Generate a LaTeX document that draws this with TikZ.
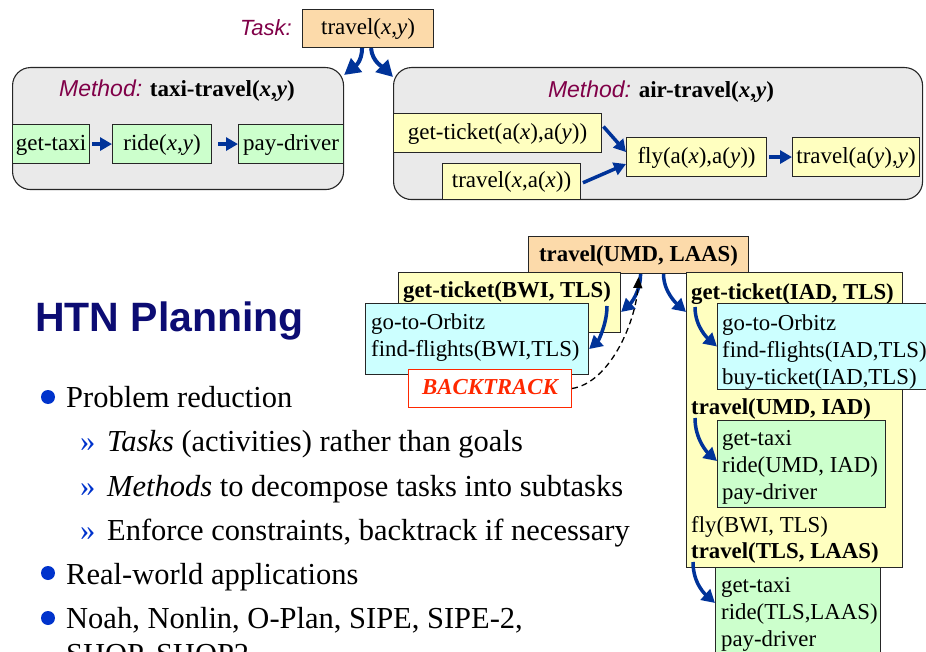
\documentclass[tikz,border=0pt]{standalone}
\usepackage{fontspec}
\setmainfont{Liberation Serif}
\newfontfamily\arialfont{Liberation Sans}
\usetikzlibrary{arrows.meta}

\definecolor{peach}{RGB}{252,218,170}
\definecolor{lemon}{RGB}{255,255,192}
\definecolor{mint}{RGB}{204,255,204}
\definecolor{aqua}{RGB}{204,255,255}
\definecolor{panel}{RGB}{234,234,234}
\definecolor{arrowblue}{RGB}{0,51,153}
\definecolor{plum}{RGB}{128,0,72}
\definecolor{navy}{RGB}{12,12,115}
\definecolor{dotblue}{RGB}{0,51,204}
\definecolor{alarm}{RGB}{255,40,0}

\newcommand\fsnode{\fontsize{23pt}{27pt}\selectfont}
\newcommand\fslow{\fontsize{22.8pt}{27pt}\selectfont}
\newcommand\fsbody{\fontsize{30.5pt}{36pt}\selectfont}
\newcommand\fshead{\fontsize{41pt}{48pt}\selectfont}

\begin{document}
\begin{tikzpicture}[x=1pt,y=-1pt,
  cell/.style={draw=black!85,line width=1.1pt,inner sep=0pt,anchor=north west,
    font=\fsnode,text height=16pt,text depth=3.5pt},
  panelbox/.style={draw=black!85,line width=1.1pt,fill=panel,rounded corners=18pt,
    inner sep=0pt,anchor=north west},
  line/.style={anchor=base west,inner sep=0pt,font=\fslow},
  body/.style={anchor=base west,inner sep=0pt,font=\fsbody},
  flow/.style={draw=arrowblue,line width=3.5pt,-{Triangle[length=12pt,width=13pt]}},
  hop/.style={draw=arrowblue,line width=3.5pt,-{Triangle[length=13pt,width=14pt]}},
  bigflow/.style={draw=arrowblue,line width=4pt,-{Triangle[length=16pt,width=17pt]}},
  dot/.style={circle,fill=dotblue,inner sep=0pt,minimum size=14pt}
]
\useasboundingbox (0,0) rectangle (926,652);
\clip (0,0) rectangle (926,652);

% ---------------- task and its two methods ----------------
\node[cell,fill=peach,minimum width=131pt,minimum height=38pt] (task) at (302,9)
  {travel(\textit{x},\textit{y})};
\node[anchor=east,inner sep=0pt,font=\arialfont\itshape\fontsize{22pt}{26pt}\selectfont,text=plum]
  (tasklbl) at (292,28) {Task:};

\node[panelbox,minimum width=331pt,minimum height=122pt] (taxi) at (12,67) {};
\node[font=\fsnode,inner sep=0pt] (taxititle) at (177,91)
  {{\arialfont\itshape\color{plum}Method:} \textbf{taxi-travel(\textit{x},\textit{y})}};
\node[cell,fill=mint,minimum width=77pt,minimum height=39pt] (gt) at (12,124) {get-taxi};
\node[cell,fill=mint,minimum width=99pt,minimum height=39pt] (ride) at (112,124)
  {ride(\textit{x},\textit{y})};
\node[cell,fill=mint,minimum width=105pt,minimum height=39pt] (pay) at (238,124) {pay-driver};
\draw[flow,shorten <=2pt] (gt.east) -- (ride.west);
\draw[flow,shorten <=6pt] (ride.east) -- (pay.west);

\node[panelbox,minimum width=529pt,minimum height=132pt] (air) at (393,67) {};
\node[font=\fsnode,inner sep=0pt] (airtitle) at (661,92)
  {{\arialfont\itshape\color{plum}Method:} \textbf{air-travel(\textit{x},\textit{y})}};
\node[cell,fill=lemon,minimum width=208pt,minimum height=39pt] (gtk) at (393,113)
  {get-ticket(a(\textit{x}),a(\textit{y}))};
\node[cell,fill=lemon,minimum width=138pt,minimum height=36pt] (trx) at (442,163)
  {travel(\textit{x},a(\textit{x}))};
\node[cell,fill=lemon,minimum width=140pt,minimum height=39pt] (fly) at (626,137)
  {fly(a(\textit{x}),a(\textit{y}))};
\node[cell,fill=lemon,minimum width=127pt,minimum height=39pt] (tra) at (792,137)
  {travel(a(\textit{y}),\textit{y})};
\draw[flow,shorten <=2pt] ([yshift=8pt]gtk.east) -- ([yshift=5pt]fly.west);
\draw[flow,shorten <=2pt] ([yshift=-2pt]trx.east) -- ([yshift=-7pt]fly.west);
\draw[flow,shorten <=2pt] (fly.east) -- (tra.west);

\draw[bigflow] ([xshift=-6pt]task.south) .. controls +(0,14) and +(10,-8) .. ([yshift=-8pt]taxi.north east);
\draw[bigflow] ([xshift=3pt]task.south) .. controls +(1,14) and +(-9,-9) .. ([yshift=-10pt]air.north west);

% ---------------- decomposition example ----------------
\node[cell,fill=peach,minimum width=220pt,minimum height=37pt,font=\fslow\bfseries] (top) at (528,236)
  {travel(UMD, LAAS)};

% left branch: abandoned ticket purchase
\node[cell,fill=lemon,minimum width=222pt,minimum height=60pt] (gtbwi) at (398,272) {};
\node[line,font=\fslow\bfseries] (gtbwitxt) at (403,298) {get-ticket(BWI, TLS)};
\node[cell,fill=aqua,minimum width=223pt,minimum height=71pt] (cybwi) at (365,303) {};
\node[line] (orb1) at (371,329) {go-to-Orbitz};
\node[line] (ff1) at (371,356) {find-flights(BWI,TLS)};
\node[cell,fill=white,draw=alarm,line width=1pt,minimum width=163pt,minimum height=38pt,
  font=\fslow\bfseries\itshape,text=alarm] (back) at (408,369) {BACKTRACK};

% right branch: the successful plan
\node[cell,fill=lemon,minimum width=216pt,minimum height=295pt] (ybig) at (686,272) {};
\node[line,font=\fslow\bfseries] (gtiad) at (691,299) {get-ticket(IAD, TLS)};
\node[cell,fill=aqua,minimum width=240pt,minimum height=86pt] (cyiad) at (717,303) {};
\node[line] (orb2) at (722,330) {go-to-Orbitz};
\node[line] (ff2) at (722,357) {find-flights(IAD,TLS)};
\node[line] (buy) at (722,384) {buy-ticket(IAD,TLS)};
\node[line,font=\fslow\bfseries] (tr1) at (691,414) {travel(UMD, IAD)};
\node[cell,fill=mint,minimum width=168pt,minimum height=87pt] (gr1) at (717,420) {};
\node[line] (tx1) at (722,445) {get-taxi};
\node[line] (rd1) at (722,472) {ride(UMD, IAD)};
\node[line] (pd1) at (722,499) {pay-driver};
\node[line] (flyb) at (691,532) {fly(BWI, TLS)};
\node[line,font=\fslow\bfseries] (tr2) at (691,558) {travel(TLS, LAAS)};
\node[cell,fill=mint,minimum width=165pt,minimum height=100pt] (gr2) at (715,567) {};
\node[line] (tx2) at (721,592) {get-taxi};
\node[line] (rd2) at (721,619) {ride(TLS,LAAS)};
\node[line] (pd2) at (721,646) {pay-driver};

\coordinate (s1) at (607,306);
\coordinate (s2) at (695,307);
\coordinate (s3) at (695,418);
\coordinate (s4) at (693,562);

\draw[hop] ([xshift=2pt]top.south) .. controls +(0,18) and +(9,-8) .. ([yshift=-40pt]gtbwi.north east);
\draw[hop] (s1) .. controls +(0,18) and +(9,-8) .. ([yshift=-10pt]cybwi.east);
\draw[hop] ([xshift=25pt]top.south) .. controls +(0,18) and +(-9,-8) .. ([yshift=-40pt]ybig.north west);
\draw[hop] (s2) .. controls +(0,20) and +(-9,-8) .. (cyiad.west);
\draw[hop] (s3) .. controls +(0,22) and +(-9,-8) .. ([yshift=3pt]gr1.west);
\draw[hop] (s4) .. controls +(0,22) and +(-9,-8) .. ([yshift=-36pt]gr2.north west);

\draw[dashed,line width=1.3pt,dash pattern=on 6pt off 4pt,-{Triangle[length=11pt,width=9pt]}]
  (back.east) .. controls +(38,-6) and +(-3,45) .. ([yshift=-3pt]top.south);

% ---------------- slide text ----------------
\node[anchor=base west,inner sep=0pt,font=\arialfont\bfseries\fshead,text=navy] (title) at (35,331)
  {HTN Planning};

\node[dot] (b1) at (48,397) {};
\node[body] (t1) at (66,407) {Problem reduction};
\node[body,text=dotblue] (c1) at (80,451) {»};
\node[body] (t2) at (107,451) {\textit{Tasks} (activities) rather than goals};
\node[body,text=dotblue] (c2) at (80,496) {»};
\node[body] (t3) at (107,496) {\textit{Methods} to decompose tasks into subtasks};
\node[body,text=dotblue] (c3) at (80,540) {»};
\node[body] (t4) at (107,540) {Enforce constraints, backtrack if necessary};
\node[dot] (b2) at (48,573) {};
\node[body] (t5) at (66,584) {Real-world applications};
\node[dot] (b3) at (48,618) {};
\node[body] (t6) at (66,628) {Noah, Nonlin, O-Plan, SIPE, SIPE-2,};
\node[body] (t7) at (66,664) {SHOP, SHOP2};
\end{tikzpicture}
\end{document}
